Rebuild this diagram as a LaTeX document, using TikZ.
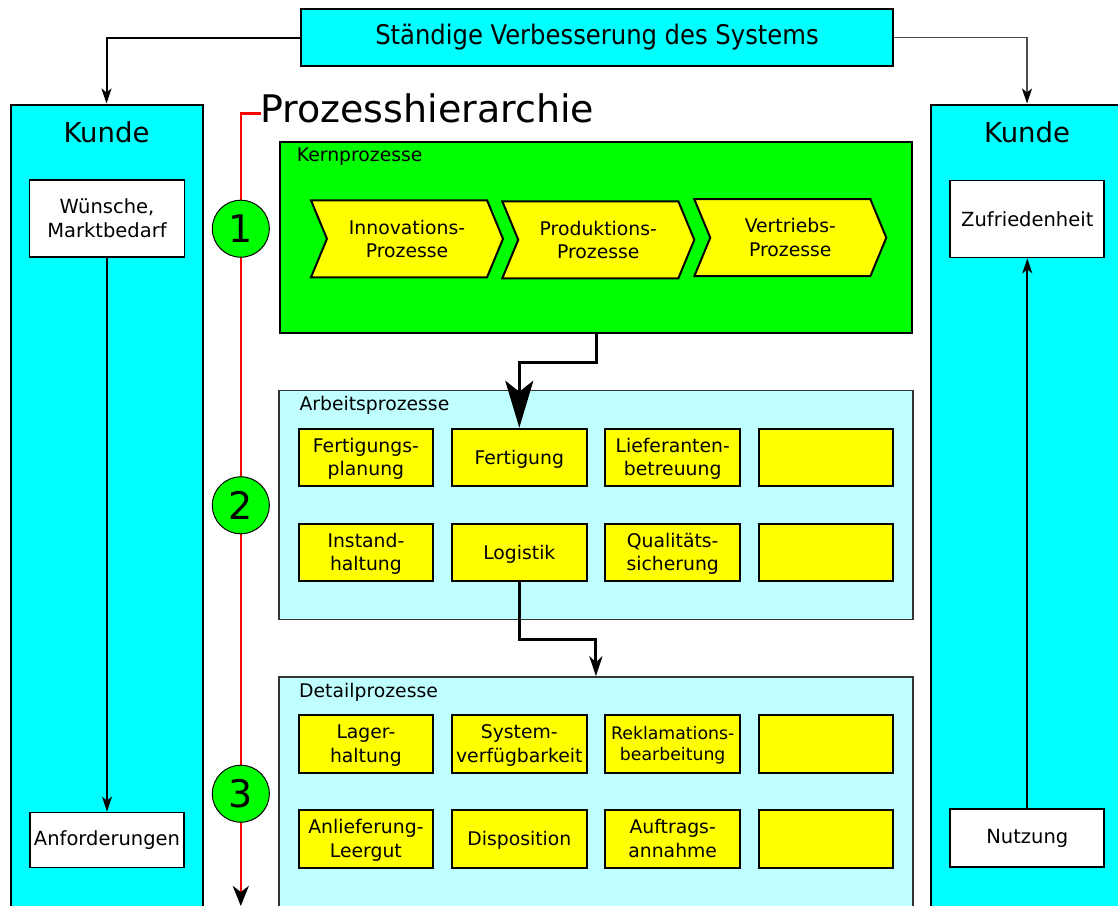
\documentclass[tikz,border=0pt]{standalone}
\usepackage{fontspec}
\setmainfont{DejaVu Sans}
\newfontfamily\condfont{DejaVu Sans Condensed}
\usetikzlibrary{arrows.meta,shapes.symbols,calc}

\definecolor{kcyan}{RGB}{0,255,255}
\definecolor{kgreen}{RGB}{0,255,0}
\definecolor{lcyan}{RGB}{191,255,255}
\definecolor{kyellow}{RGB}{255,255,0}
\definecolor{kred}{RGB}{255,0,0}

\newcommand\txtsmall{\fontsize{18.8}{23.5}\selectfont}
\newcommand\txtwhite{\fontsize{19.5}{24}\selectfont}
\newcommand\txtrek{\fontsize{17.3}{21}\selectfont}
\newcommand\txtkunde{\fontsize{27.5}{32}\selectfont}
\newcommand\txtbig{\fontsize{38}{44}\selectfont}
\newcommand\txtnum{\fontsize{38}{44}\selectfont}
\newcommand\txttitle{\condfont\fontsize{27}{32}\selectfont}

\begin{document}
\begin{tikzpicture}[x=1pt,y=-1pt,
  kundecol/.style={draw, line width=2, fill=kcyan, minimum width=192, minimum height=830, inner sep=0, anchor=north},
  kundelabel/.style={font=\txtkunde, anchor=base, inner sep=0},
  wbox/.style={draw, line width=1.8, fill=white, align=center, font=\txtwhite, inner sep=0},
  groupbox/.style={draw=black!80, line width=1.5, fill=lcyan, inner sep=0, minimum width=633.7},
  grouplabel/.style={font=\txtsmall, anchor=base west, inner sep=0},
  ybox/.style={draw, line width=2, fill=kyellow, minimum width=134.5, minimum height=57.5, inner sep=0, align=center, font=\txtsmall, text depth=1pt},
  chev/.style={signal, signal to=east, signal from=west, signal pointer angle=135, draw, line width=2, fill=kyellow, minimum width=192, minimum height=77, inner sep=0, align=center, font=\txtsmall},
  stage/.style={circle, draw, line width=1, fill=kgreen, minimum size=57, inner sep=0, font=\txtnum},
  thinarrow/.style={line width=1.8, -{Stealth[length=15, width=10, inset=4]}},
  flowarrow/.style={line width=3},
  redline/.style={draw=kred, line width=2.5}
]
\useasboundingbox (0,0) rectangle (1118,905);
\clip (0,0) rectangle (1118,905);

% customer columns
\node[kundecol] (kl) at (106.5,103.5) {};
\node[kundecol] (kr) at (1027,103.5) {};
\node[kundelabel] (kll) at (106.5,142) {Kunde};
\node[kundelabel] (krl) at (1027,142) {Kunde};

% customer boxes
\node[wbox, minimum width=155, minimum height=77] (wue) at (107,218.7) {Wünsche,\\Marktbedarf};
\node[wbox, minimum width=153.5, minimum height=55] (anf) at (107,840) {Anforderungen};
\node[wbox, minimum width=154, minimum height=77] (zuf) at (1027.3,219) {Zufriedenheit};
\node[wbox, minimum width=154, minimum height=58] (nut) at (1027.3,838.3) {Nutzung};

% improvement box on top
\node[draw, line width=2, fill=kcyan, minimum width=592, minimum height=57, inner sep=0, font=\txttitle] (top) at (597,37.5) {Ständige Verbesserung des Systems};

% process hierarchy heading and red axis
\node[font=\txtbig, anchor=base west, inner sep=0] (ph) at (260,122) {Prozesshierarchie};
\coordinate (redcorner) at (240.8,113.3);
\coordinate (redend) at (240.8,906);
\draw[redline, -{Stealth[length=20, width=16, inset=6, color=black]}] ($(ph.base west)+(1,-8.7)$) -- (redcorner) -- (redend);

% level 1: core processes
\node[draw, line width=2, fill=kgreen, minimum width=632.6, minimum height=191.6, inner sep=0] (kern) at (596,237.5) {};
\node[grouplabel] (kernl) at (296.7,161) {Kernprozesse};
\node[chev] (inno) at (407,238.8) {Innovations-\\Prozesse};
\node[chev] (prod) at (598.3,239.8) {Produktions-\\Prozesse};
\node[chev] (vert) at (790.3,237.7) {Vertriebs-\\Prozesse};

% level 2: work processes
\node[groupbox, minimum height=228.8] (arb) at (595.9,505.1) {};
\node[grouplabel] (arbl) at (299.3,410) {Arbeitsprozesse};
\node[ybox] (fpl) at (365.9,457.5) {Fertigungs-\\planung};
\node[ybox] (fert) at (519.3,457.5) {Fertigung};
\node[ybox] (lief) at (672.7,457.5) {Lieferanten-\\betreuung};
\node[ybox] (a4) at (826,457.5) {};
\node[ybox] (inst) at (365.9,552.5) {Instand-\\haltung};
\node[ybox] (logi) at (519.3,552.5) {Logistik};
\node[ybox] (qual) at (672.7,552.5) {Qualitäts-\\sicherung};
\node[ybox] (a8) at (826,552.5) {};

% level 3: detail processes
\node[groupbox, minimum height=253] (det) at (595.9,803.5) {};
\node[grouplabel] (detl) at (299,697.3) {Detailprozesse};
\node[ybox] (lag) at (365.9,744) {Lager-\\haltung};
\node[ybox] (sysv) at (519.3,744) {System-\\verfügbarkeit};
\node[ybox, font=\txtrek] (rek) at (672.7,744) {Reklamations-\\bearbeitung};
\node[ybox] (d4) at (826,744) {};
\node[ybox] (anl) at (365.9,839) {Anlieferung-\\Leergut};
\node[ybox] (disp) at (519.3,839) {Disposition};
\node[ybox] (auft) at (672.7,839) {Auftrags-\\annahme};
\node[ybox] (d8) at (826,839) {};

% level markers on the red axis
\node[stage] (s1) at (240.8,228.7) {1};
\node[stage] (s2) at (240.8,505.3) {2};
\node[stage] (s3) at (240.8,793.7) {3};

% connectors
\draw[line width=2, -{Stealth[length=15, width=10, inset=4]}] (top.west) -| (kl.north);
\draw[black!70, line width=1.6, -{Stealth[length=15, width=10, inset=4, color=black]}] (top.east) -| (kr.north);
\draw[thinarrow] (wue) -- (anf);
\draw[thinarrow] (nut) -- (zuf);
\coordinate (kbend) at (596,362.7);
\draw[flowarrow, -{Stealth[length=47, width=28, inset=11]}] (kern.south) -- (kbend) -| (fert.north);
\coordinate (lbend) at (520,639);
\draw[flowarrow, -{Stealth[length=20, width=13, inset=6]}] (logi.south) -- (logi.south |- lbend) -| (det.north);
\end{tikzpicture}
\end{document}
